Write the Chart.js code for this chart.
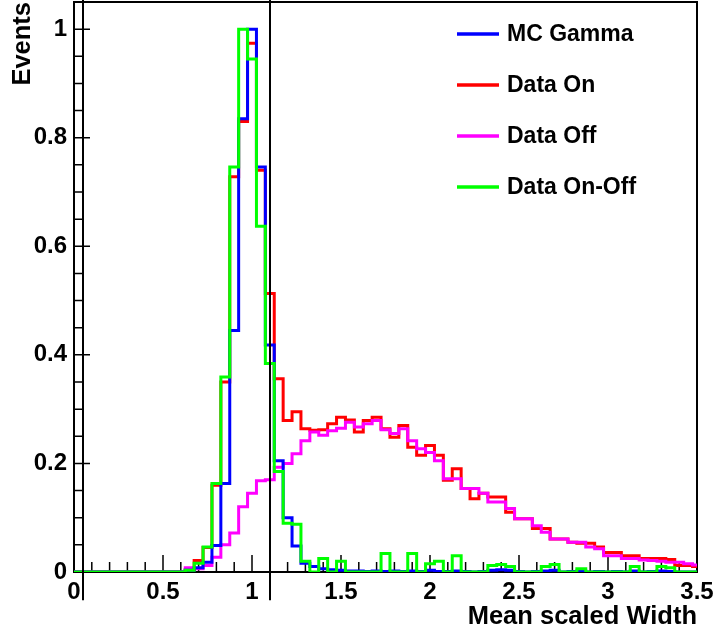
<!DOCTYPE html>
<html>
<head>
<meta charset="utf-8">
<script src="https://cdn.jsdelivr.net/npm/chart.js@4.4.1/dist/chart.umd.min.js"></script>
<style>
  html, body { margin: 0; padding: 0; background: #fff; }
  #plot { display: block; }
</style>
</head>
<body>
<canvas id="plot" width="715" height="634"></canvas>
<script>
// bin centres, bins are 0.05 wide
const binCenters = [
  0, 0.05, 0.1, 0.15, 0.2, 0.25, 0.3, 0.35, 0.4, 0.45,
  0.5, 0.55, 0.6, 0.65, 0.7, 0.75, 0.8, 0.85, 0.9, 0.95,
  1, 1.05, 1.1, 1.15, 1.2, 1.25, 1.3, 1.35, 1.4, 1.45,
  1.5, 1.55, 1.6, 1.65, 1.7, 1.75, 1.8, 1.85, 1.9, 1.95,
  2, 2.05, 2.1, 2.15, 2.2, 2.25, 2.3, 2.35, 2.4, 2.45,
  2.5, 2.55, 2.6, 2.65, 2.7, 2.75, 2.8, 2.85, 2.9, 2.95,
  3, 3.05, 3.1, 3.15, 3.2, 3.25, 3.3, 3.35, 3.4, 3.45,
  3.5
];

const mcGamma = [
  0, 0, 0, 0, 0, 0, 0, 0, 0, 0,
  0, 0, 0, 0.003, 0.008, 0.018, 0.049, 0.163, 0.445, 0.835,
  1.0, 0.746, 0.418, 0.205, 0.100, 0.048, 0.016, 0.010, 0.006, 0.004,
  0.003, 0.002, 0.002, 0.001, 0.002, 0.001, 0.002, 0.001, 0.002, 0.001,
  0.003, 0.001, 0.001, 0.002, 0.001, 0, 0.001, 0.003, 0.004, 0.003,
  0.001, 0, 0.001, 0.002, 0.003, 0, 0.001, 0.002, 0, 0.001,
  0, 0.001, 0, 0.002, 0, 0.001, 0.002, 0.001, 0, 0,
  0
];

const dataOn = [
  0, 0, 0, 0, 0, 0, 0, 0, 0, 0,
  0, 0, 0, 0.004, 0.021, 0.045, 0.160, 0.350, 0.728, 0.830,
  0.974, 0.740, 0.513, 0.356, 0.279, 0.295, 0.264, 0.261, 0.262, 0.273,
  0.285, 0.280, 0.258, 0.279, 0.285, 0.264, 0.248, 0.270, 0.230, 0.215,
  0.233, 0.215, 0.169, 0.190, 0.154, 0.135, 0.145, 0.138, 0.138, 0.110,
  0.098, 0.098, 0.080, 0.080, 0.061, 0.061, 0.055, 0.053, 0.053, 0.046,
  0.036, 0.036, 0.030, 0.030, 0.025, 0.025, 0.025, 0.023, 0.012, 0.012,
  0.010
];

const dataOff = [
  0, 0, 0, 0, 0, 0, 0, 0, 0, 0,
  0, 0, 0, 0.008, 0.006, 0.012, 0.027, 0.050, 0.072, 0.120,
  0.145, 0.168, 0.170, 0.193, 0.200, 0.218, 0.242, 0.258, 0.252, 0.260,
  0.265, 0.276, 0.267, 0.273, 0.279, 0.262, 0.255, 0.264, 0.242, 0.227,
  0.220, 0.205, 0.172, 0.172, 0.154, 0.154, 0.145, 0.129, 0.129, 0.117,
  0.098, 0.098, 0.085, 0.073, 0.061, 0.061, 0.055, 0.055, 0.046, 0.043,
  0.030, 0.030, 0.025, 0.025, 0.022, 0.021, 0.020, 0.018, 0.018, 0.015,
  0.013
];

const dataOnOff = [
  0, 0, 0, 0, 0, 0, 0, 0, 0, 0,
  0, 0, 0, 0.003, 0.016, 0.046, 0.163, 0.359, 0.746, 1.0,
  0.945, 0.637, 0.384, 0.185, 0.090, 0.088, 0.020, 0, 0.025, 0,
  0.020, 0, 0, 0, 0, 0.034, 0, 0, 0.034, 0,
  0.015, 0.020, 0, 0.030, 0, 0, 0, 0.012, 0.014, 0.010,
  0, 0, 0, 0.010, 0.014, 0, 0, 0.006, 0, 0,
  0, 0, 0, 0.010, 0, 0, 0.010, 0.008, 0, 0,
  0
];

// axes
const xTickValues = [0, 0.5, 1, 1.5, 2, 2.5, 3, 3.5];
const xTickLabels = ["0", "0.5", "1", "1.5", "2", "2.5", "3", "3.5"];
const yTickValues = [0, 0.2, 0.4, 0.6, 0.8, 1];
const yTickLabels = ["0", "0.2", "0.4", "0.6", "0.8", "1"];
const cutValues = [0.05, 1.1]; // vertical cut lines

const seriesNames = ["MC Gamma", "Data On", "Data Off", "Data On-Off"];
const seriesColors = ["#0000ff", "#ff0000", "#ff00ff", "#00ff00"];
const seriesValues = [mcGamma, dataOn, dataOff, dataOnOff];
const drawOrder = [1, 3, 2, 0]; // green on top, red at the bottom

const FONT = "'Liberation Sans', Arial, Helvetica, sans-serif";

// frame + inward ticks, drawn under the histograms
const frameBelow = {
  id: "frameBelow",
  beforeDatasetsDraw(chart){
    const { ctx, chartArea: a, scales: { x, y } } = chart;
    ctx.save();
    ctx.strokeStyle = "#000";
    ctx.lineWidth = 1.5;
    ctx.beginPath();
    for(let i = 0; i <= 35; i++){
      const px = x.getPixelForValue(i / 10);
      const len = i % 5 === 0 ? 17 : 10;
      ctx.moveTo(px, a.bottom);
      ctx.lineTo(px, a.bottom - len);
    }
    for(let i = 0; i <= 21; i++){
      const py = y.getPixelForValue(i * 0.05);
      const len = i % 4 === 0 ? 16 : 9;
      ctx.moveTo(a.left, py);
      ctx.lineTo(a.left + len, py);
    }
    ctx.stroke();
    ctx.lineWidth = 2;
    ctx.strokeRect(a.left, a.top, a.right - a.left, a.bottom - a.top);
    ctx.restore();
  }
};

// cut lines and legend on top
const overlay = {
  id: "overlay",
  afterDatasetsDraw(chart){
    const { ctx, scales: { x, y } } = chart;
    ctx.save();
    ctx.strokeStyle = "#000";
    ctx.lineWidth = 2;
    cutValues.forEach(v => {
      const px = Math.round(x.getPixelForValue(v));
      ctx.beginPath();
      ctx.moveTo(px, 0);
      ctx.lineTo(px, y.getPixelForValue(-0.052));
      ctx.stroke();
    });

    // legend
    ctx.font = "bold 23px " + FONT;
    ctx.textBaseline = "middle";
    ctx.fillStyle = "#000";
    const rows = [34, 85, 136, 187];
    seriesNames.forEach((name, i) => {
      ctx.strokeStyle = seriesColors[i];
      ctx.lineWidth = 3.5;
      ctx.beginPath();
      ctx.moveTo(457, rows[i]);
      ctx.lineTo(499, rows[i]);
      ctx.stroke();
      ctx.fillText(name, 507, rows[i] + 1);
    });
    ctx.restore();
  }
};

new Chart(document.getElementById("plot"), {
  type: "line",
  data: {
    datasets: seriesNames.map((name, i) => ({
      label: name,
      data: binCenters.map((c, k) => ({ x: c, y: seriesValues[i][k] })),
      borderColor: seriesColors[i],
      borderWidth: 3,
      pointRadius: 0,
      stepped: "middle",
      fill: false,
      order: drawOrder[i]
    }))
  },
  options: {
    responsive: false,
    animation: false,
    devicePixelRatio: 1,
    layout: { padding: { top: 2, right: 18, left: 0, bottom: 0 } },
    plugins: {
      legend: { display: false },
      tooltip: { enabled: false }
    },
    scales: {
      x: {
        type: "linear",
        min: 0,
        max: 3.5,
        grid: { display: false, drawTicks: false },
        border: { display: false },
        afterBuildTicks: s => { s.ticks = xTickValues.map(v => ({ value: v })); },
        afterFit: s => {
          s.height = 62;
          s.paddingLeft = 0; s.paddingRight = 0;
        },
        ticks: {
          autoSkip: false,
          maxRotation: 0,
          padding: 6,
          color: "#000",
          font: { family: FONT, size: 24, weight: "bold" },
          callback: (v, i) => xTickLabels[i]
        },
        title: {
          display: true,
          text: "Mean scaled Width",
          align: "end",
          color: "#000",
          font: { family: FONT, size: 25.5, weight: "bold" },
          padding: { top: 0, bottom: 2 }
        }
      },
      y: {
        type: "linear",
        min: 0,
        max: 1.05,
        grid: { display: false, drawTicks: false },
        border: { display: false },
        afterBuildTicks: s => { s.ticks = yTickValues.map(v => ({ value: v })); },
        afterFit: s => {
          s.width = 74;
          s.paddingTop = 0; s.paddingBottom = 0;
        },
        ticks: {
          autoSkip: false,
          padding: 7,
          color: "#000",
          font: { family: FONT, size: 24, weight: "bold" },
          callback: (v, i) => yTickLabels[i]
        },
        title: {
          display: true,
          text: "Events",
          align: "end",
          color: "#000",
          font: { family: FONT, size: 25.5, weight: "bold" },
          padding: { top: 8, bottom: 0 }
        }
      }
    }
  },
  plugins: [frameBelow, overlay]
});
</script>
</body>
</html>
